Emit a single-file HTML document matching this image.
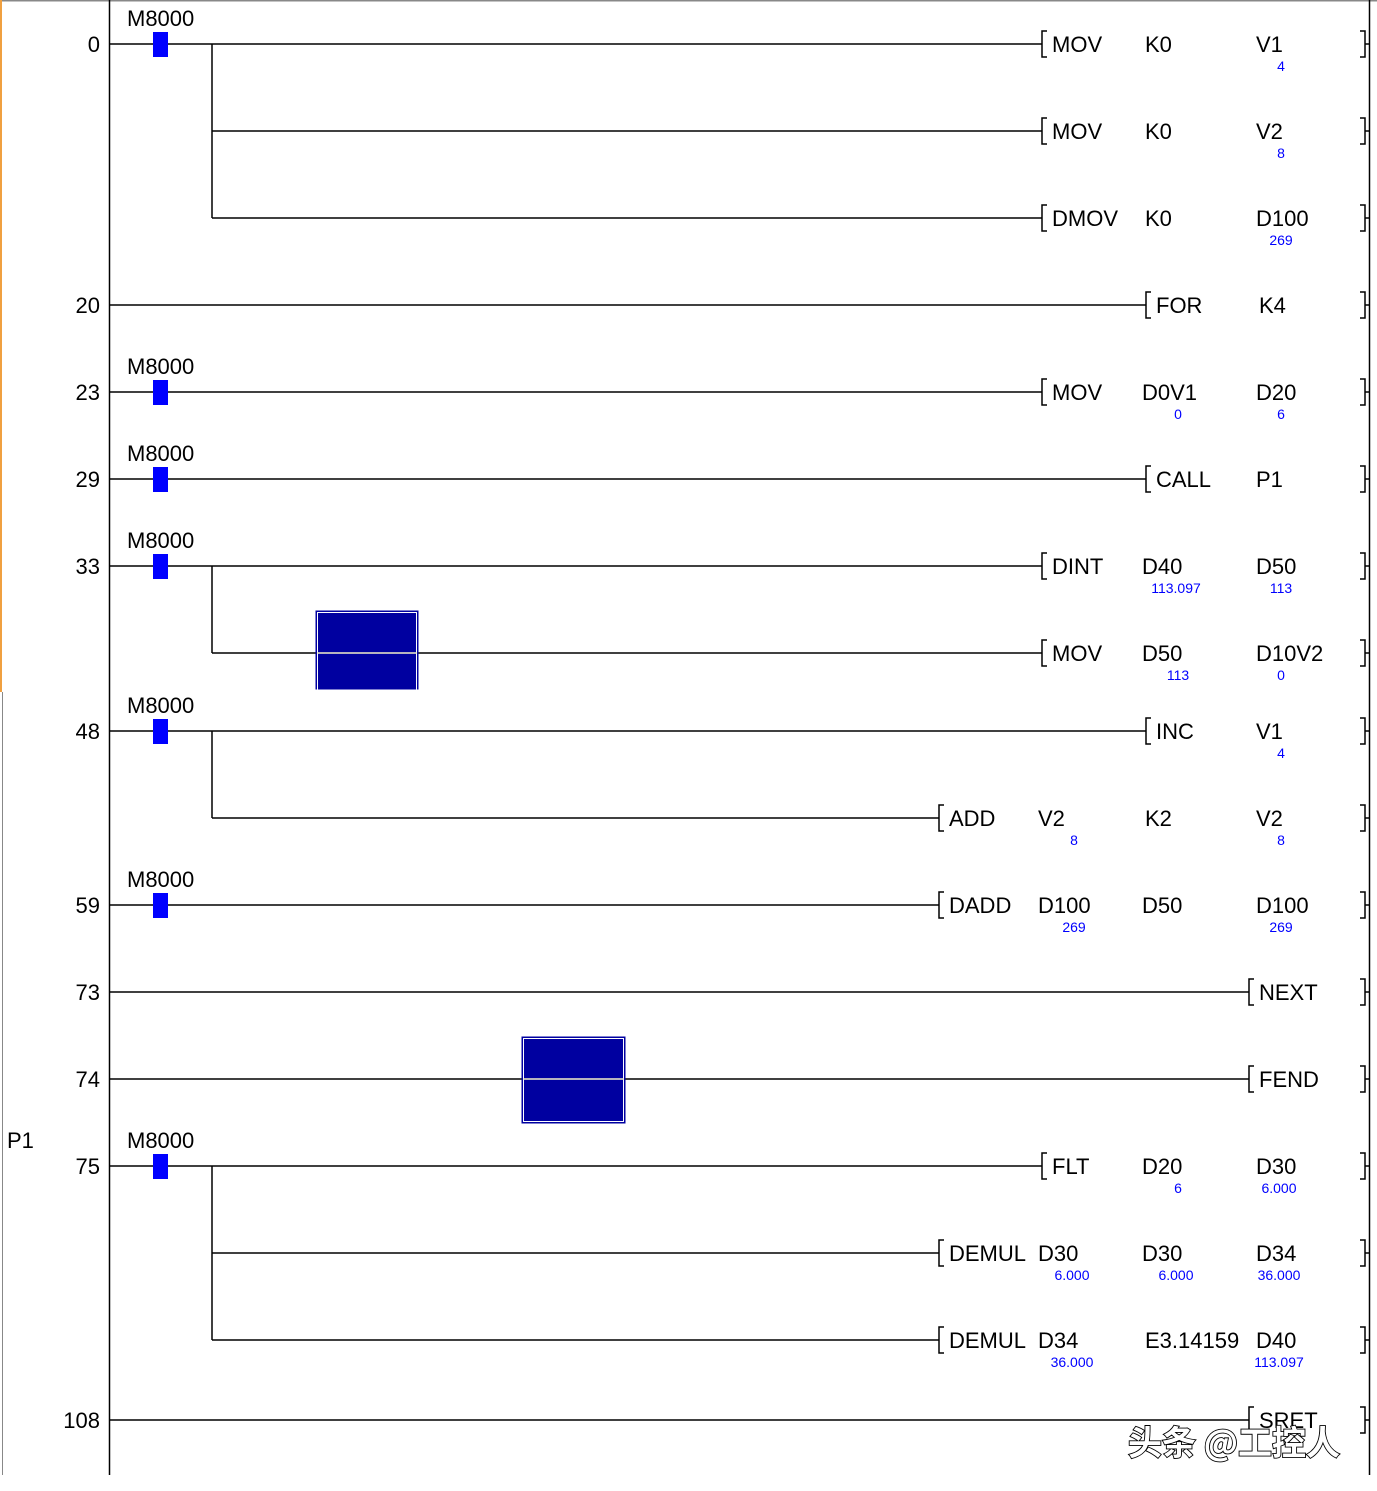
<!DOCTYPE html>
<html><head><meta charset="utf-8"><style>
html,body{margin:0;padding:0;background:#fff;}
svg{display:block;}
text{font-family:"Liberation Sans","Noto Sans CJK SC",sans-serif;}
.t{font-size:22px;fill:#000;}
.v{font-size:14px;fill:#0000ff;text-anchor:middle;}
.n{font-size:22px;fill:#000;text-anchor:end;}
</style></head><body>
<svg width="1377" height="1491" viewBox="0 0 1377 1491" xmlns="http://www.w3.org/2000/svg">
<rect x="0" y="0" width="1377" height="1491" fill="#fff"/>
<line x1="0" y1="0.5" x2="1377" y2="0.5" stroke="#888" stroke-width="2"/>
<line x1="1" y1="0" x2="1" y2="692" stroke="#f0a040" stroke-width="2"/>
<line x1="2.5" y1="692" x2="2.5" y2="1475" stroke="#888" stroke-width="1"/>
<line x1="109.5" y1="0" x2="109.5" y2="1475" stroke="#000" stroke-width="1.5"/>
<line x1="1369.5" y1="0" x2="1369.5" y2="1475" stroke="#000" stroke-width="1.5"/>
<g stroke="#000" stroke-width="1.5" fill="none">
<path d="M109 44H1042 M212 131H1042 M212 218H1042 M109 305H1146 M109 392H1042 M109 479H1146 M109 566H1042 M212 653H1042 M109 731H1146 M212 818H939 M109 905H939 M109 992H1249 M109 1079H1249 M109 1166H1042 M212 1253H939 M212 1340H939 M109 1420H1249"/>
<path d="M212 44V218 M212 566V653 M212 731V818 M212 1166V1340"/>
<path d="M1047 31H1042V57H1047 M1047 118H1042V144H1047 M1047 205H1042V231H1047 M1151 292H1146V318H1151 M1047 379H1042V405H1047 M1151 466H1146V492H1151 M1047 553H1042V579H1047 M1047 640H1042V666H1047 M1151 718H1146V744H1151 M944 805H939V831H944 M944 892H939V918H944 M1254 979H1249V1005H1254 M1254 1066H1249V1092H1254 M1047 1153H1042V1179H1047 M944 1240H939V1266H944 M944 1327H939V1353H944 M1254 1407H1249V1433H1254"/>
<path d="M1360 31H1365V57H1360 M1365 44H1369 M1360 118H1365V144H1360 M1365 131H1369 M1360 205H1365V231H1360 M1365 218H1369 M1360 292H1365V318H1360 M1365 305H1369 M1360 379H1365V405H1360 M1365 392H1369 M1360 466H1365V492H1360 M1365 479H1369 M1360 553H1365V579H1360 M1365 566H1369 M1360 640H1365V666H1360 M1365 653H1369 M1360 718H1365V744H1360 M1365 731H1369 M1360 805H1365V831H1360 M1365 818H1369 M1360 892H1365V918H1360 M1365 905H1369 M1360 979H1365V1005H1360 M1365 992H1369 M1360 1066H1365V1092H1360 M1365 1079H1369 M1360 1153H1365V1179H1360 M1365 1166H1369 M1360 1240H1365V1266H1360 M1365 1253H1369 M1360 1327H1365V1353H1360 M1365 1340H1369 M1360 1407H1365V1433H1360 M1365 1420H1369"/>
</g>
<g fill="#0000ff">
<rect x="153" y="32" width="15" height="25"/>
<rect x="153" y="380" width="15" height="25"/>
<rect x="153" y="467" width="15" height="25"/>
<rect x="153" y="554" width="15" height="25"/>
<rect x="153" y="719" width="15" height="25"/>
<rect x="153" y="893" width="15" height="25"/>
<rect x="153" y="1154" width="15" height="25"/>
</g>
<rect x="316" y="611" width="102" height="78" fill="#0000a0" stroke="#0000a0"/>
<rect x="317.5" y="612.5" width="99" height="80" fill="none" stroke="#fff" stroke-width="1"/>
<line x1="317" y1="653" x2="417" y2="653" stroke="#f4f0c8" stroke-width="1.5"/>
<rect x="522" y="1037" width="103" height="86" fill="#0000a0" stroke="#0000a0"/>
<rect x="523.5" y="1038.5" width="100" height="83" fill="none" stroke="#fff" stroke-width="1"/>
<line x1="523" y1="1079" x2="624" y2="1079" stroke="#f4f0c8" stroke-width="1.5"/>
<text class="n" x="100" y="52">0</text>
<text class="n" x="100" y="313">20</text>
<text class="n" x="100" y="400">23</text>
<text class="n" x="100" y="487">29</text>
<text class="n" x="100" y="574">33</text>
<text class="n" x="100" y="739">48</text>
<text class="n" x="100" y="913">59</text>
<text class="n" x="100" y="1000">73</text>
<text class="n" x="100" y="1087">74</text>
<text class="n" x="100" y="1174">75</text>
<text class="n" x="100" y="1428">108</text>
<text class="t" x="7" y="1148">P1</text>
<text class="t" x="127" y="26">M8000</text>
<text class="t" x="127" y="374">M8000</text>
<text class="t" x="127" y="461">M8000</text>
<text class="t" x="127" y="548">M8000</text>
<text class="t" x="127" y="713">M8000</text>
<text class="t" x="127" y="887">M8000</text>
<text class="t" x="127" y="1148">M8000</text>
<text class="t" x="1052" y="52">MOV</text><text class="t" x="1145" y="52">K0</text><text class="t" x="1256" y="52">V1</text><text class="v" x="1281" y="71">4</text>
<text class="t" x="1052" y="139">MOV</text><text class="t" x="1145" y="139">K0</text><text class="t" x="1256" y="139">V2</text><text class="v" x="1281" y="158">8</text>
<text class="t" x="1052" y="226">DMOV</text><text class="t" x="1145" y="226">K0</text><text class="t" x="1256" y="226">D100</text><text class="v" x="1281" y="245">269</text>
<text class="t" x="1156" y="313">FOR</text><text class="t" x="1259" y="313">K4</text>
<text class="t" x="1052" y="400">MOV</text><text class="t" x="1142" y="400">D0V1</text><text class="v" x="1178" y="419">0</text><text class="t" x="1256" y="400">D20</text><text class="v" x="1281" y="419">6</text>
<text class="t" x="1156" y="487">CALL</text><text class="t" x="1256" y="487">P1</text>
<text class="t" x="1052" y="574">DINT</text><text class="t" x="1142" y="574">D40</text><text class="v" x="1176" y="593">113.097</text><text class="t" x="1256" y="574">D50</text><text class="v" x="1281" y="593">113</text>
<text class="t" x="1052" y="661">MOV</text><text class="t" x="1142" y="661">D50</text><text class="v" x="1178" y="680">113</text><text class="t" x="1256" y="661">D10V2</text><text class="v" x="1281" y="680">0</text>
<text class="t" x="1156" y="739">INC</text><text class="t" x="1256" y="739">V1</text><text class="v" x="1281" y="758">4</text>
<text class="t" x="949" y="826">ADD</text><text class="t" x="1038" y="826">V2</text><text class="v" x="1074" y="845">8</text><text class="t" x="1145" y="826">K2</text><text class="t" x="1256" y="826">V2</text><text class="v" x="1281" y="845">8</text>
<text class="t" x="949" y="913">DADD</text><text class="t" x="1038" y="913">D100</text><text class="v" x="1074" y="932">269</text><text class="t" x="1142" y="913">D50</text><text class="t" x="1256" y="913">D100</text><text class="v" x="1281" y="932">269</text>
<text class="t" x="1259" y="1000">NEXT</text>
<text class="t" x="1259" y="1087">FEND</text>
<text class="t" x="1052" y="1174">FLT</text><text class="t" x="1142" y="1174">D20</text><text class="v" x="1178" y="1193">6</text><text class="t" x="1256" y="1174">D30</text><text class="v" x="1279" y="1193">6.000</text>
<text class="t" x="949" y="1261">DEMUL</text><text class="t" x="1038" y="1261">D30</text><text class="v" x="1072" y="1280">6.000</text><text class="t" x="1142" y="1261">D30</text><text class="v" x="1176" y="1280">6.000</text><text class="t" x="1256" y="1261">D34</text><text class="v" x="1279" y="1280">36.000</text>
<text class="t" x="949" y="1348">DEMUL</text><text class="t" x="1038" y="1348">D34</text><text class="v" x="1072" y="1367">36.000</text><text class="t" x="1145" y="1348">E3.14159</text><text class="t" x="1256" y="1348">D40</text><text class="v" x="1279" y="1367">113.097</text>
<text class="t" x="1259" y="1428">SRET</text>
<text x="1128" y="1455" font-size="34" font-weight="bold" fill="#fff" stroke="#000" stroke-width="1.8" paint-order="stroke" style="font-family:'Noto Sans CJK SC','Liberation Sans',sans-serif;">头条 @工控人</text>
</svg>
</body></html>
